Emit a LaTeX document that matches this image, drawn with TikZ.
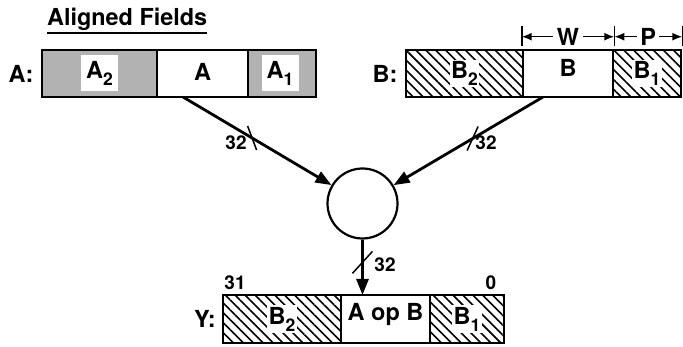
\documentclass[tikz,border=0pt]{standalone}
\usepackage{fontspec}
\setmainfont{TeX Gyre Heros}
\usetikzlibrary{arrows.meta,patterns.meta,calc}
\newcommand{\subx}[1]{\raisebox{-0.55ex}{\fontsize{17.5}{17.5}\selectfont #1}}
\begin{document}
\begin{tikzpicture}[x=1pt,y=-1pt,
  every node/.style={font=\fontsize{23.5}{25}\selectfont\bfseries},
  fld/.style={draw, line width=2.6pt, rectangle, inner sep=0pt, minimum height=47pt},
  grayf/.style={fill=black!30},
  hatchf/.style={pattern={Lines[angle=-45,distance=7pt,line width=1.6pt]}},
  wlbl/.style={fill=white, inner sep=0pt, minimum width=37pt, minimum height=36pt},
  hlbl/.style={fill=white, inner sep=1.5pt},
  conn/.style={line width=2.8pt, -{Triangle[length=16pt,width=12pt]}},
  slash/.style={line width=1.5pt},
  num/.style={font=\fontsize{19}{21}\selectfont\bfseries, inner sep=0pt},
  dim/.style={line width=1.6pt, {Latex[length=10pt,width=8pt]}-{Latex[length=10pt,width=8pt]}},
  tick/.style={line width=1.6pt},
]
\useasboundingbox (0,0) rectangle (683,347);

% title
\node[anchor=base west, inner sep=0pt, font=\fontsize{23.4}{26}\selectfont\bfseries] (ttl) at (47,26) {Aligned Fields};
\draw[line width=1.8pt] ($(ttl.south west)+(0,1.5)$) -- ($(ttl.south east)+(0,1.5)$);

% register A
\node (la) at (21,73.5) {A:};
\node[fld, grayf, minimum width=115pt] (a2) at (99.5,73.5) {};
\node[fld, minimum width=91pt] (a) at (202.5,73.5) {};
\node[fld, grayf, minimum width=68pt] (a1) at (282,73.5) {};
\node[wlbl] (ta2) at (a2) {A\subx{2}};
\node (ta) at ($(a)+(0,-2)$) {A};
\node[wlbl] (ta1) at ($(a1)+(-2,0)$) {A\subx{1}};

% register B
\node (lb) at (385,73.5) {B:};
\node[fld, hatchf, minimum width=117pt] (b2) at (464.5,73.5) {};
\node[fld, minimum width=90pt] (b) at (568,73.5) {};
\node[fld, hatchf, minimum width=68pt] (b1) at (647,73.5) {};
\node[hlbl] (tb2) at (b2) {B\subx{2}};
\node (tb) at ($(b)+(0,-6)$) {B};
\node[hlbl] (tb1) at (b1) {B\subx{1}};

% dimensions
\draw[tick] ($(b.north west)+(0,-3)$) -- ++(0,-20);
\draw[tick] ($(b.north east)+(0,-3)$) -- ++(0,-20);
\draw[tick] ($(b1.north east)+(0,-3)$) -- ++(0,-20);
\draw[dim] ($(b.north west)+(0,-12)$) coordinate (w1) -- ($(b.north east)+(0,-12)$) coordinate (w2);
\node[fill=white, inner xsep=4pt, inner ysep=0pt] (tw) at ($(w1)!0.5!(w2)$) {W};
\draw[dim] (w2) -- ($(b1.north east)+(0,-12)$) coordinate (p2);
\node[fill=white, inner xsep=3pt, inner ysep=0pt] (tp) at ($(w2)!0.5!(p2)$) {P};

% operator
\node[circle, draw, line width=2.2pt, minimum size=70pt, inner sep=0pt] (op) at (362.5,203.5) {};
\coordinate (as) at (183,97);
\coordinate (bs) at (543,97);
\coordinate (yin) at (362.5,295);
\draw[conn] (as) -- (op);
\draw[conn] (bs) -- (op);
\draw[conn] (op.south) -- (yin);

\draw[slash] ($(as)!0.385!(op.center)$) ++(-4.5,-12) -- ++(9,24);
\draw[slash] ($(bs)!0.39!(op.center)$) ++(5.5,-12) -- ++(-11,24);
\draw[slash] ($(op.south)!0.41!(yin)$) ++(10,-11) -- ++(-20,22);
\node[num] (n1) at (236,143) {32};
\node[num] (n2) at (486,143) {32};
\node[num] (n3) at (385,265) {32};

% register Y
\node (ly) at (205,319) {Y:};
\node[fld, hatchf, minimum width=118pt, minimum height=48pt] (y2) at (282,319) {};
\node[fld, minimum width=89pt, minimum height=48pt] (yab) at (385.5,319) {};
\node[fld, hatchf, minimum width=74pt, minimum height=48pt] (y1) at (467,319) {};
\node[hlbl] (ty2) at (y2) {B\subx{2}};
\node (tyab) at ($(yab)+(0,-5)$) {A op B};
\node[hlbl] (ty1) at (y1) {B\subx{1}};
\node[num] (n31) at (235,283) {31};
\node[num] (n0) at (491,283) {0};
\end{tikzpicture}
\end{document}
